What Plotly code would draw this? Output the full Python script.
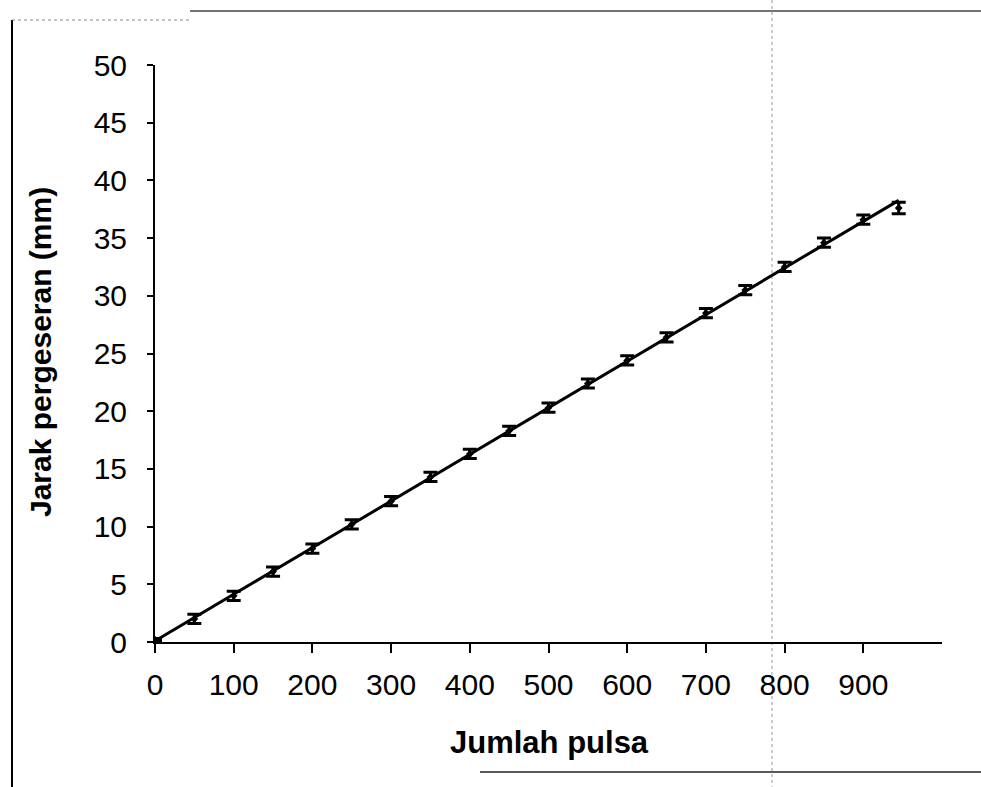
import numpy as np
import plotly.graph_objects as go

# Data
pulses = [0, 50, 100, 150, 200, 250, 300, 350, 400, 450, 500, 550, 600, 650,
          700, 750, 800, 850, 900, 945]
shift_mm = [0.2, 2.0, 4.0, 6.1, 8.1, 10.2, 12.2, 14.3, 16.3, 18.3, 20.3, 22.4,
            24.4, 26.4, 28.5, 30.5, 32.5, 34.6, 36.6, 37.6]
err_mm = [0.1, 0.4, 0.4, 0.4, 0.4, 0.4, 0.4, 0.4, 0.4, 0.4, 0.4, 0.4,
          0.4, 0.4, 0.4, 0.4, 0.4, 0.4, 0.4, 0.5]
x_ticks = [0, 100, 200, 300, 400, 500, 600, 700, 800, 900]
y_ticks = [0, 5, 10, 15, 20, 25, 30, 35, 40, 45, 50]

# linear trend line through the data
slope, intercept = np.polyfit(pulses, shift_mm, 1)
fit_x = [0, 945]
fit_y = [slope * v + intercept for v in fit_x]

fig = go.Figure()
fig.add_trace(go.Scatter(
    x=fit_x, y=fit_y, mode="lines",
    line=dict(color="black", width=3), showlegend=False, hoverinfo="skip"))
fig.add_trace(go.Scatter(
    x=pulses, y=shift_mm, mode="markers",
    marker=dict(color="black", size=6, symbol="diamond"),
    error_y=dict(type="data", array=err_mm, visible=True,
                 color="black", thickness=3, width=7),
    showlegend=False))

font = "Liberation Sans, Arial, sans-serif"
fig.update_layout(
    width=981, height=787,
    margin=dict(l=155, r=39, t=65, b=145),
    paper_bgcolor="white", plot_bgcolor="white",
    font=dict(family=font, color="black", size=30),
    xaxis=dict(range=[0, 1000], tickvals=x_ticks, showgrid=False, zeroline=False,
               showline=True, linecolor="black", linewidth=2,
               ticks="outside", ticklen=9, tickwidth=2, tickcolor="black",
               ticklabelstandoff=6,
               tickfont=dict(size=30, family=font)),
    yaxis=dict(range=[0, 50], tickvals=y_ticks, showgrid=False, zeroline=False,
               showline=True, linecolor="black", linewidth=2,
               ticks="outside", ticklen=6, tickwidth=1.5, tickcolor="black",
               ticklabelstandoff=14,
               tickfont=dict(size=30, family=font)),
    annotations=[
        dict(text="<b>Jumlah pulsa</b>", xref="paper", yref="paper",
             x=(549 - 155) / 787, y=(642 - 742) / 577, showarrow=False,
             font=dict(size=31, family=font), xanchor="center", yanchor="middle"),
        dict(text="<b>Jarak pergeseran (mm)</b>", xref="paper", yref="paper",
             x=(40 - 155) / 787, y=(642 - 352) / 577, showarrow=False, textangle=-90,
             font=dict(size=30, family=font), xanchor="center", yanchor="middle"),
    ],
    shapes=[
        # scanned page frame lines
        dict(type="line", xref="paper", yref="paper",
             x0=(12 - 155) / 787, x1=(12 - 155) / 787,
             y0=(642 - 20) / 577, y1=(642 - 787) / 577,
             line=dict(color="black", width=2)),
        dict(type="line", xref="paper", yref="paper",
             x0=(190 - 155) / 787, x1=(981 - 155) / 787,
             y0=(642 - 11) / 577, y1=(642 - 11) / 577,
             line=dict(color="#444", width=1.5)),
        dict(type="line", xref="paper", yref="paper",
             x0=(12 - 155) / 787, x1=(190 - 155) / 787,
             y0=(642 - 20) / 577, y1=(642 - 20) / 577,
             line=dict(color="#888", width=1, dash="dot")),
        dict(type="line", xref="paper", yref="paper",
             x0=(480 - 155) / 787, x1=(981 - 155) / 787,
             y0=(642 - 772) / 577, y1=(642 - 772) / 577,
             line=dict(color="#222", width=1.5)),
        dict(type="line", xref="paper", yref="paper",
             x0=(772 - 155) / 787, x1=(772 - 155) / 787,
             y0=(642 - 0) / 577, y1=(642 - 787) / 577,
             line=dict(color="#999", width=1, dash="dot"), layer="below"),
    ],
)

fig.write_html("out.html")
